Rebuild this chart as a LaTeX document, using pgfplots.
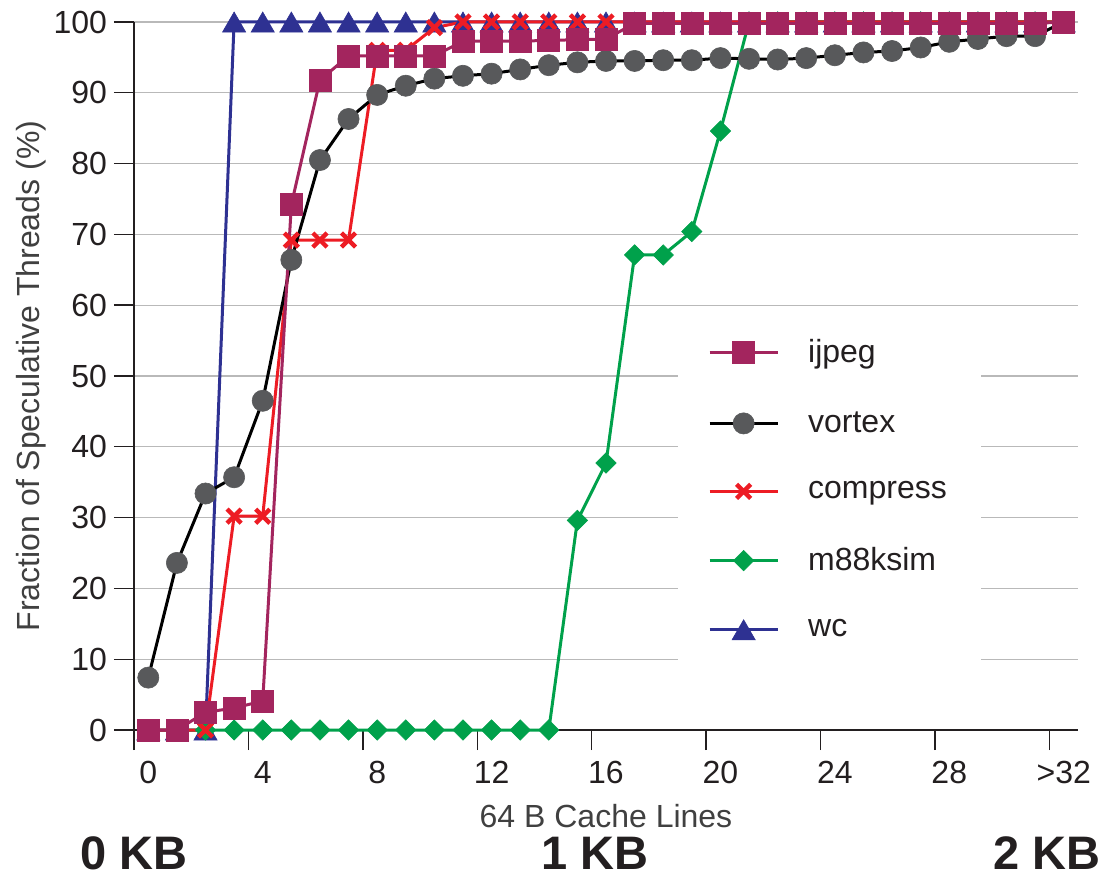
\documentclass[border=0pt]{standalone}
\usepackage{pgfplots}
\usepackage{pgfplotstable}
\pgfplotsset{compat=1.18}
\usepackage{fontspec}
\setmainfont{Liberation Sans}
\definecolor{cijpeg}{RGB}{163,37,94}
\definecolor{cvortex}{RGB}{88,89,91}
\definecolor{ccomp}{RGB}{237,28,36}
\definecolor{cm88}{RGB}{0,161,75}
\definecolor{cwc}{RGB}{46,49,146}
\definecolor{cgrid}{RGB}{185,185,185}
\definecolor{ctxt}{RGB}{35,31,32}
\definecolor{clab}{RGB}{64,64,64}

\pgfplotstableread{
c ijpeg vortex compress m88ksim wc
0 0 7.4 0 0 0
1 0 23.6 0 0 0
2 2.5 33.4 0 0 0
3 3.1 35.7 30.2 0 100
4 4.1 46.5 30.2 0 100
5 74.2 66.4 69.2 0 100
6 91.8 80.5 69.2 0 100
7 95.2 86.3 69.2 0 100
8 95.2 89.7 96.0 0 100
9 95.2 91.0 96.0 0 100
10 95.2 92.0 99.2 0 100
11 97.3 92.4 100 0 100
12 97.3 92.7 100 0 100
13 97.3 93.3 100 0 100
14 97.4 93.9 100 0 100
15 97.5 94.3 100 29.6 100
16 97.6 94.5 100 37.7 100
17 99.8 94.5 100 67.1 100
18 99.8 94.6 100 67.1 100
19 99.8 94.6 100 70.4 100
20 99.8 94.9 100 84.6 100
21 99.8 94.8 100 100 100
22 99.8 94.7 100 100 100
23 99.8 94.9 100 100 100
24 99.8 95.3 100 100 100
25 99.8 95.7 100 100 100
26 99.8 95.9 100 100 100
27 99.8 96.4 100 100 100
28 99.8 97.2 100 100 100
29 99.8 97.6 100 100 100
30 99.8 98.0 100 100 100
31 99.8 98.0 100 100 100
32 100 100 100 100 100
}\data

\begin{document}
\begin{tikzpicture}
\begin{axis}[
  scale only axis, width=472pt, height=354pt,
  xmin=-0.5, xmax=32.5, ymin=0, ymax=100,
  axis x line*=bottom, axis y line*=left,
  axis line style={line width=1.35pt, ctxt, -},
  clip=false,
  ytick={0,10,...,100},
  ymajorgrids, grid style={cgrid, line width=0.6pt},
  xtick={-0.5,3.5,...,31.5}, xticklabels={},
  extra x ticks={0,4,...,32},
  extra x tick labels={0,4,8,12,16,20,24,28,{>32}},
  extra x tick style={major tick length=0pt, tick style={draw=none}, xticklabel style={yshift=-12pt}},
  tick align=outside, major tick length=10pt,
  tick style={ctxt, line width=0.7pt},
  /pgf/number format/assume math mode=true,
  every tick label/.append style={font=\fontsize{16}{19}\selectfont, text=ctxt},
  xlabel={64 B Cache Lines},
  xlabel style={at={(axis description cs:0.5,-0.1384)}, anchor=base, font=\fontsize{16}{19}\selectfont, text=clab},
  ylabel={Fraction of Speculative Threads (\%)},
  ylabel style={at={(axis description cs:-0.0996,0.5)}, anchor=base, rotate=0, font=\fontsize{16}{19}\selectfont, text=clab},
  legend image code/.code={\draw[mark repeat=2,mark phase=2,#1] plot coordinates {(0pt,0pt) (17pt,0pt) (34pt,0pt)};},
  reverse legend,
  legend cell align=left,
  legend style={draw=none, fill=white, font=\fontsize{16}{19}\selectfont, text=ctxt,
    at={(axis description cs:0.576,0.5975)}, anchor=north west,
    inner xsep=15pt, inner ysep=14pt, row sep=19pt,
    /tikz/every odd column/.append style={column sep=12.5pt}},
]
\addplot[cwc, line width=1.5pt, mark=triangle*, mark size=6.7pt, mark options={solid, fill=cwc, line width=0.3pt, yshift=-1.7pt}] table[x=c, y=wc] {\data};
\addlegendentry{wc}
\addplot[cm88, line width=1.5pt, mark=square*, mark size=3.6pt, mark options={solid, fill=cm88, rotate=45, line width=0.3pt}] table[x=c, y=m88ksim] {\data};
\addlegendentry{m88ksim}
\addplot[ccomp, line width=1.5pt, mark=x, mark size=5pt, mark options={solid, line width=2.2pt}] table[x=c, y=compress] {\data};
\addlegendentry{compress}
\addplot[black, line width=1.5pt, mark=*, mark size=5.3pt, mark options={solid, fill=cvortex, draw=cvortex, line width=0.3pt}] table[x=c, y=vortex] {\data};
\addlegendentry{vortex}
\addplot[cijpeg, line width=1.5pt, mark=square*, mark size=5.5pt, mark options={solid, fill=cijpeg, line width=0.3pt}] table[x=c, y=ijpeg] {\data};
\addlegendentry{ijpeg}
\node[anchor=base, inner sep=0pt, font=\fontsize{23.5}{28}\selectfont\bfseries, text=ctxt] at (axis description cs:0,-0.1977) {0 KB};
\node[anchor=base, inner sep=0pt, font=\fontsize{23.5}{28}\selectfont\bfseries, text=ctxt] at (axis description cs:0.4883,-0.1977) {1 KB};
\node[anchor=base, inner sep=0pt, font=\fontsize{23.5}{28}\selectfont\bfseries, text=ctxt] at (axis description cs:0.967,-0.1977) {2 KB};
\end{axis}
\pgfresetboundingbox
\path[use as bounding box] (-67pt,-74pt) rectangle (484pt,365pt);
\end{tikzpicture}
\end{document}
